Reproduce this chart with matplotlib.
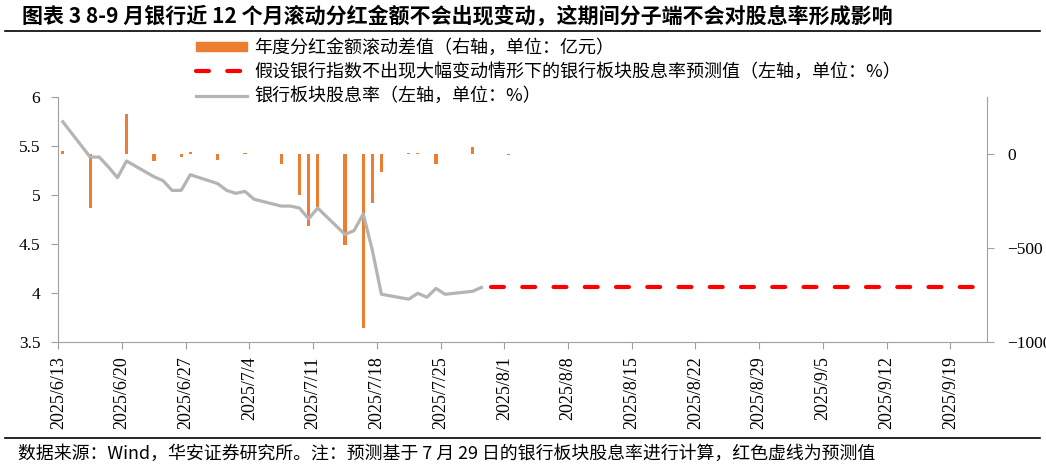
import matplotlib
matplotlib.use("Agg")
import matplotlib.pyplot as plt
import matplotlib.dates as mdates
from matplotlib.lines import Line2D
from matplotlib.patches import Patch
from matplotlib.ticker import FuncFormatter, MultipleLocator
import pandas as pd

plt.rcParams['font.family'] = ['Noto Sans CJK SC', 'DejaVu Sans']

# ---- data ----
yield_dates = ["2025-06-13", "2025-06-16", "2025-06-17", "2025-06-18", "2025-06-19",
               "2025-06-20", "2025-06-23", "2025-06-24", "2025-06-25", "2025-06-26",
               "2025-06-27", "2025-06-30", "2025-07-01", "2025-07-02", "2025-07-03",
               "2025-07-04", "2025-07-07", "2025-07-08", "2025-07-09", "2025-07-10",
               "2025-07-11", "2025-07-14", "2025-07-15", "2025-07-16", "2025-07-17",
               "2025-07-18", "2025-07-21", "2025-07-22", "2025-07-23", "2025-07-24",
               "2025-07-25", "2025-07-28", "2025-07-29"]
yield_values = [5.75, 5.39, 5.39, 5.29, 5.18, 5.35, 5.19, 5.15, 5.05, 5.05,
                5.21, 5.12, 5.05, 5.02, 5.04, 4.96, 4.89, 4.89, 4.87, 4.76,
                4.87, 4.60, 4.64, 4.81, 4.44, 3.99, 3.94, 4.00, 3.96, 4.05,
                3.99, 4.02, 4.06]

bar_dates = ["2025-06-13", "2025-06-16", "2025-06-20", "2025-06-23", "2025-06-26",
             "2025-06-27", "2025-06-30", "2025-07-03", "2025-07-07", "2025-07-09",
             "2025-07-10", "2025-07-11", "2025-07-14", "2025-07-16", "2025-07-17",
             "2025-07-18", "2025-07-21", "2025-07-22", "2025-07-24", "2025-07-28",
             "2025-08-01"]
bar_values = [17, -290, 212, -37, -18, 9, -34, 5, -52, -216,
              -382, -283, -482, -926, -259, -94, 5, 3, -55, 35, -4]

forecast_dates = ["2025-07-30", "2025-09-22"]
forecast_values = [4.06, 4.06]

tick_dates = pd.date_range("2025-06-13", "2025-09-19", freq="7D")

title = "图表 3 8-9 月银行近 12 个月滚动分红金额不会出现变动，这期间分子端不会对股息率形成影响"
footer = "数据来源：Wind，华安证券研究所。注：预测基于 7 月 29 日的银行板块股息率进行计算，红色虚线为预测值"
labels = ["年度分红金额滚动差值（右轴，单位：亿元）",
          "假设银行指数不出现大幅变动情形下的银行板块股息率预测值（左轴，单位：%）",
          "银行板块股息率（左轴，单位：%）"]

ORANGE = "#ED7D31"
GREY = "#B4B4B4"
RED = "#FF0000"
AXIS = "#A0A0A0"


def to_x(dates):
    # Excel date axis puts each point in the middle of its day
    return mdates.date2num(pd.to_datetime(dates)) + 0.5


W, H = 1046, 469
fig = plt.figure(figsize=(W / 100, H / 100), dpi=100)
ax2 = fig.add_axes([58.3 / W, 1 - 342.3 / H, (986.7 - 58.3) / W, (342.3 - 97.3) / H])
ax = ax2.twinx()
# line axis drawn on top of the bar axis, with its ticks on the left
ax.yaxis.tick_left()
ax2.yaxis.tick_right()
ax.yaxis.set_label_position("left")

ax2.bar(to_x(bar_dates), bar_values, width=0.36, color=ORANGE, zorder=2)
ax.plot(to_x(yield_dates), yield_values, color=GREY, lw=2.3, zorder=3)
ax.plot(to_x(forecast_dates), forecast_values, color=RED, lw=3.0,
        dashes=(3.1, 4.4), dash_capstyle="round", zorder=3)

ax.set_ylim(3.5, 6)
ax.yaxis.set_major_locator(MultipleLocator(0.5))
ax.yaxis.set_major_formatter(FuncFormatter(lambda v, p: f"{v:g}"))
ax2.set_ylim(-1000, 300)
ax2.set_yticks([-1000, -500, 0])

x0 = mdates.date2num(pd.Timestamp("2025-06-13"))
ax2.set_xlim(x0, x0 + 102)
ax2.set_xticks(mdates.date2num(tick_dates))


def date_fmt(v, p):
    d = mdates.num2date(v)
    return f"{d.year}/{d.month}/{d.day}"


ax2.xaxis.set_major_formatter(FuncFormatter(date_fmt))

for a in (ax, ax2):
    for s in a.spines.values():
        s.set_visible(False)
        s.set_color(AXIS)
ax.spines["left"].set_visible(True)
ax2.spines["bottom"].set_visible(True)
ax2.spines["right"].set_visible(True)

serif = ["Liberation Serif", "DejaVu Serif"]
ax.tick_params(axis="y", direction="out", length=5, color=AXIS, pad=8)
ax2.tick_params(axis="y", direction="out", length=5, color=AXIS, pad=10)
ax2.tick_params(axis="x", direction="out", length=5, color=AXIS, pad=5)
for t in ax.get_yticklabels() + ax2.get_yticklabels():
    t.set_fontfamily(serif)
    t.set_fontsize(12.5)
for t in ax2.get_xticklabels():
    t.set_fontfamily(serif)
    t.set_fontsize(13)
    t.set_rotation(90)
    t.set_ha("center")
    t.set_va("top")

# title, rules and footer
fig.text(22 / W, 1 - 16 / H, title, fontsize=15.1, fontweight="bold", va="center", ha="left")
fig.add_artist(Line2D([5 / W, 1040 / W], [1 - 31 / H] * 2, color="black", lw=1.2,
                      transform=fig.transFigure))
fig.add_artist(Line2D([5 / W, 1040 / W], [1 - 438 / H] * 2, color="black", lw=1.2,
                      transform=fig.transFigure))
fig.text(18 / W, 1 - 454 / H, footer, fontsize=12.9, va="center", ha="left")

handles = [Patch(color=ORANGE),
           Line2D([], [], color=RED, lw=3.0, dashes=(3.1, 4.4), dash_capstyle="round"),
           Line2D([], [], color=GREY, lw=2.3)]
fig.legend(handles, labels, loc="upper left", bbox_to_anchor=(196 / W, 1 - 39 / H),
           frameon=False, fontsize=13, handlelength=2.8, handleheight=0.45,
           handletextpad=0.42, labelspacing=0.34, borderpad=0, borderaxespad=0)

fig.savefig("out.png", dpi=100)
